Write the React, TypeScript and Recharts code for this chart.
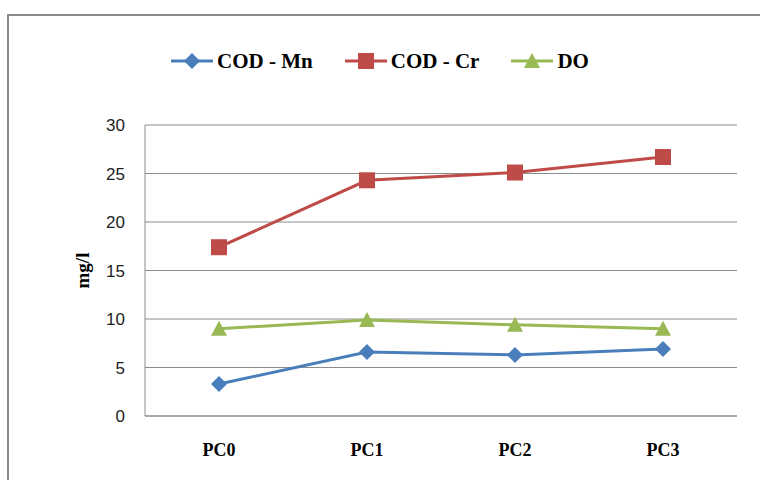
import { LineChart, Line, XAxis, YAxis, CartesianGrid, Legend } from "recharts";

const categories = ["PC0", "PC1", "PC2", "PC3"];
const codMn = [3.3, 6.6, 6.3, 6.9];
const codCr = [17.4, 24.3, 25.1, 26.7];
const doValues = [9.0, 9.9, 9.4, 9.0];
const yTicks = [0, 5, 10, 15, 20, 25, 30];

const series = [
  { key: "mn", name: "COD - Mn", color: "#4A7EBB", shape: "diamond" },
  { key: "cr", name: "COD - Cr", color: "#BE4B48", shape: "square" },
  { key: "do", name: "DO", color: "#98B954", shape: "triangle" },
];

const data = categories.map((c, i) => ({ name: c, mn: codMn[i], cr: codCr[i], do: doValues[i] }));

const serif = "'Liberation Serif', 'Times New Roman', serif";

function marker(shape: string, cx: number, cy: number, color: string, key?: any) {
  if (shape === "diamond") {
    return <path key={key} d={`M${cx},${cy - 8}L${cx + 8},${cy}L${cx},${cy + 8}L${cx - 8},${cy}Z`} fill={color} />;
  }
  if (shape === "square") {
    return <rect key={key} x={cx - 8} y={cy - 8} width={16} height={16} fill={color} />;
  }
  return <path key={key} d={`M${cx},${cy - 8}L${cx + 8},${cy + 7}L${cx - 8},${cy + 7}Z`} fill={color} />;
}

const LegendContent = () => (
  <div
    style={{
      display: "flex",
      justifyContent: "center",
      gap: 32,
      height: 77,
      fontFamily: serif,
      fontWeight: "bold",
      fontSize: 21,
      color: "#000",
    }}
  >
    {series.map((s) => (
      <div key={s.key} style={{ display: "flex", alignItems: "center", height: 26 }}>
        <svg width={42} height={20}>
          <line x1={0} y1={10} x2={42} y2={10} stroke={s.color} strokeWidth={3} />
          {marker(s.shape, 21, 10, s.color)}
        </svg>
        <span style={{ marginLeft: 4 }}>{s.name}</span>
      </div>
    ))}
  </div>
);

const YLabel = (props: any) => {
  const vb = props.viewBox || { x: 0, y: 125, width: 145, height: 291 };
  const x = vb.x + 82;
  const y = vb.y + vb.height / 2;
  return (
    <text
      x={x}
      y={y}
      transform={`rotate(-90, ${x}, ${y})`}
      textAnchor="middle"
      dominantBaseline="central"
      style={{ fontFamily: serif, fontWeight: "bold", fontSize: 19, fill: "#000" }}
    >
      mg/l
    </text>
  );
};

export default function App() {
  return (
    <div style={{ position: "absolute", left: 0, top: 0, width: 760, height: 480, background: "#fff", overflow: "hidden" }}>
      <div
        style={{
          position: "absolute",
          left: 7,
          top: 14,
          width: 760,
          height: 480,
          borderTop: "2px solid #8a8a8a",
          borderLeft: "2px solid #8a8a8a",
        }}
      />
      <div style={{ position: "absolute", left: 0, top: 0 }}>
        <LineChart width={760} height={480} data={data} margin={{ top: 48, right: 23, bottom: 34, left: 0 }}>
          <CartesianGrid vertical={false} stroke="#8c8c8c" />
          <XAxis
            dataKey="name"
            padding={{ left: 74, right: 74 }}
            axisLine={{ stroke: "#8c8c8c" }}
            tickLine={false}
            tickSize={0}
            tickMargin={27}
            tick={{ fontFamily: serif, fontWeight: "bold", fontSize: 18, fill: "#000" }}
          />
          <YAxis
            domain={[0, 30]}
            ticks={yTicks}
            width={145}
            axisLine={{ stroke: "#8c8c8c" }}
            tickLine={false}
            tickSize={0}
            tickMargin={20}
            tick={{ fontFamily: "'Liberation Sans', Arial, sans-serif", fontSize: 17, fill: "#222" }}
            label={<YLabel />}
          />
          <Legend verticalAlign="top" wrapperStyle={{ left: 0, width: 760 }} content={<LegendContent />} />
          {series.map((s) => (
            <Line
              key={s.key}
              dataKey={s.key}
              name={s.name}
              stroke={s.color}
              strokeWidth={3}
              isAnimationActive={false}
              dot={(p: any) => marker(s.shape, p.cx, p.cy, s.color, `${s.key}-${p.index}`)}
              activeDot={false}
            />
          ))}
        </LineChart>
      </div>
    </div>
  );
}
